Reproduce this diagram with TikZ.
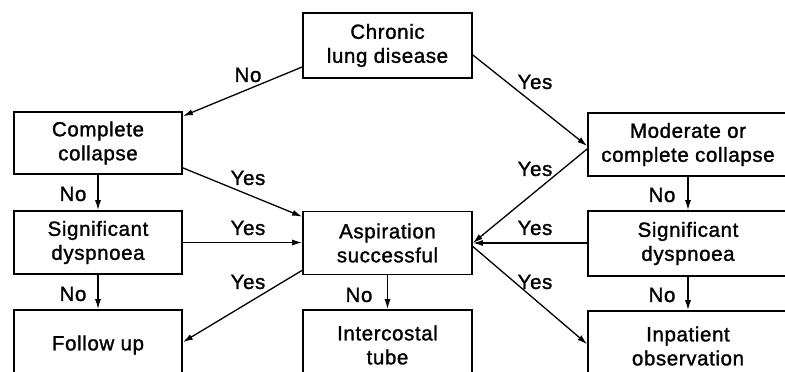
\documentclass[tikz,border=0pt]{standalone}
\usepackage{fontspec}
\setmainfont[LetterSpace=3,FakeBold=1.4]{Liberation Sans}
\usetikzlibrary{arrows.meta}
\begin{document}
\begin{tikzpicture}[x=1pt,y=-1pt,
 box/.style={draw,line width=1.7pt,align=center,font=\fontsize{20.5}{24}\selectfont,inner sep=0pt},
 lbl/.style={font=\fontsize{20.5}{24}\selectfont,inner sep=0pt},
 arr/.style={line width=1.3pt,-{Latex[length=10pt,width=6pt]}}]
\useasboundingbox (0,0) rectangle (785,372);
\clip (0,0) rectangle (785,372);
\node[box,minimum width=169pt,minimum height=65pt] (chronic) at (387.5,45.5) {Chronic\\lung disease};
\node[box,minimum width=168pt,minimum height=62pt] (complete) at (98,143) {Complete\\collapse};
\node[box,minimum width=200pt,minimum height=63pt] (moderate) at (688,144.5) {Moderate or\\complete collapse};
\node[box,minimum width=168pt,minimum height=63pt] (sigL) at (98,242.5) {Significant\\dyspnoea};
\node[box,minimum width=169pt,minimum height=63pt] (asp) at (387.5,243) {Aspiration\\successful};
\node[box,minimum width=200pt,minimum height=65pt] (sigR) at (688,243.5) {Significant\\dyspnoea};
\node[box,minimum width=168pt,minimum height=70pt] (follow) at (98,345) {Follow up};
\node[box,minimum width=169pt,minimum height=70pt] (tube) at (387.5,345) {Intercostal\\tube};
\node[box,minimum width=200pt,minimum height=70pt] (inpat) at (688,346) {Inpatient\\observation};

\draw[arr] ([yshift=-21.5pt]chronic.west) -- ([yshift=-5pt]complete.north east);
\draw[arr] ([yshift=-9.5pt]chronic.east) -- ([yshift=-1.5pt]moderate.west);
\draw[arr] ([yshift=7pt]complete.south east) -- ([yshift=-6pt]asp.north west);
\draw[arr] ([yshift=-4.5pt]moderate.west) -- (asp.east);
\draw[arr] (sigL.east) -- (sigL.east -| asp.west);
\draw[arr] (sigR.west |- asp.east) -- (asp.east);
\draw[arr] ([yshift=-3.5pt]asp.east) -- ([yshift=-34pt]inpat.north west);
\draw[arr] ([yshift=5pt]asp.south west) -- ([yshift=-33pt]follow.north east);
\draw[arr] (complete.south) -- (sigL.north);
\draw[arr] (sigL.south) -- (follow.north);
\draw[arr] (asp.south) -- (tube.north);
\draw[arr] (moderate.south) -- (sigR.north);
\draw[arr] (sigR.south) -- (inpat.north);

\node[lbl] (l1) at (248,75) {No};
\node[lbl] (l2) at (535,82) {Yes};
\node[lbl] (l3) at (248,178) {Yes};
\node[lbl] (l4) at (73,194) {No};
\node[lbl] (l5) at (535,169) {Yes};
\node[lbl] (l6) at (662,195) {No};
\node[lbl] (l7) at (248,228) {Yes};
\node[lbl] (l8) at (535,228) {Yes};
\node[lbl] (l9) at (248,282) {Yes};
\node[lbl] (l10) at (73,294) {No};
\node[lbl] (l11) at (359,295) {No};
\node[lbl] (l12) at (535,282) {Yes};
\node[lbl] (l13) at (662,295) {No};
\end{tikzpicture}
\end{document}
